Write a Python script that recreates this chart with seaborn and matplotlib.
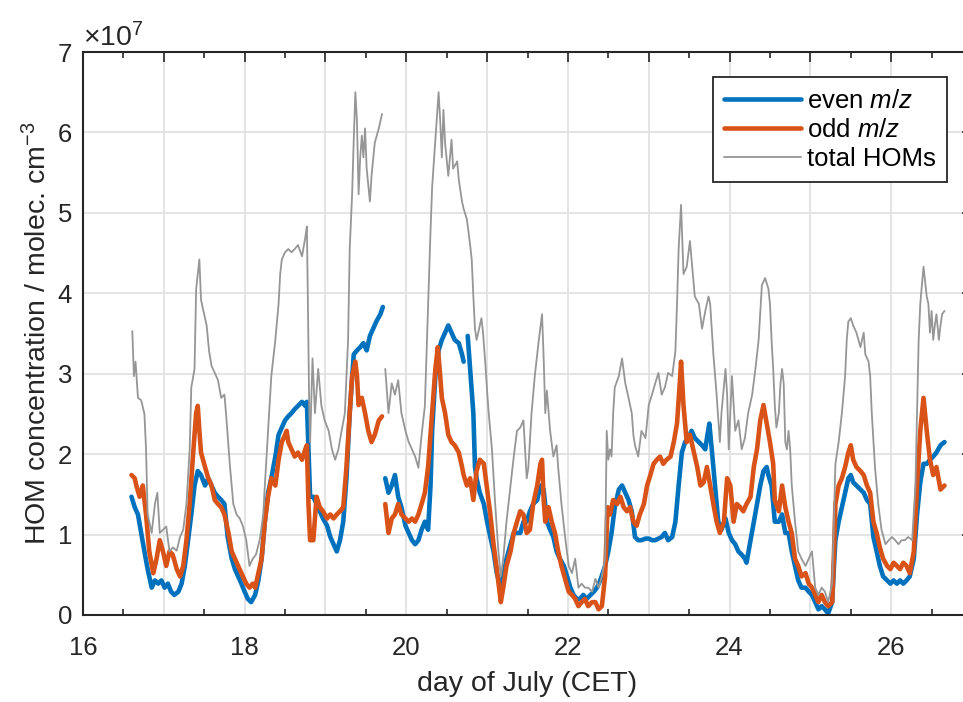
import numpy as np
import pandas as pd
import matplotlib
matplotlib.use("Agg")
import matplotlib.pyplot as plt
from matplotlib.lines import Line2D
from matplotlib.ticker import MultipleLocator
import seaborn as sns

# ---- data (concentrations in units of 1e7 molec. cm^-3); NaN marks a data gap ----
total_day = [16.61, 16.63, 16.65, 16.68, 16.72, 16.76, 16.78, 16.80, 16.85, 16.89, 16.92, 16.95, 16.99,
             17.03, 17.07, 17.11, 17.16, 17.20, 17.24, 17.28, 17.32, 17.34, 17.38, 17.40, 17.42, 17.44,
             17.46, 17.49, 17.53, 17.56, 17.59, 17.63, 17.67, 17.71, 17.75, 17.77, 17.82, 17.86, 17.90,
             17.94, 17.98, 18.02, 18.06, 18.10, 18.14, 18.19, 18.23, 18.25, 18.29, 18.33, 18.38, 18.42,
             18.44, 18.46, 18.50, 18.54, 18.58, 18.62, 18.66, 18.71, 18.75, 18.77, 18.78, 18.80, 18.81,
             18.84, 18.87, 18.91, 18.95, 18.99, 19.04, 19.08, 19.12, 19.16, 19.20, 19.24, 19.28, 19.30,
             19.33, 19.35, 19.37, 19.39, 19.41, 19.43, 19.45, 19.47, 19.49, 19.51, 19.55, 19.57, 19.61,
             19.66, 19.70, 19.72, 19.74, 19.78, 19.82, 19.86, 19.90, 19.94, 19.99, 20.03, 20.07, 20.11,
             20.15, 20.19, 20.23, 20.27, 20.30, 20.32, 20.36, 20.40, 20.42, 20.44, 20.46, 20.48, 20.52,
             20.54, 20.56, 20.58, 20.63, 20.65, 20.69, 20.71, 20.75, 20.79, 20.81, 20.83, 20.85, 20.87,
             20.89, 20.91, 20.93, 20.95, 20.98, 21.00, 21.02, 21.06, 21.10, 21.14, 21.17, 21.20, 21.24,
             21.29, 21.33, 21.37, 21.41, 21.45, 21.47, 21.49, 21.51, 21.55, 21.59, 21.64, 21.68, 21.70,
             21.72, 21.74, 21.78, 21.82, 21.86, 21.88, 21.92, 21.97, 22.01, 22.05, 22.09, 22.13, 22.17,
             22.21, 22.25, 22.30, 22.34, 22.38, 22.42, 22.46, 22.48, 22.50, 22.52, 22.54, 22.56, 22.58,
             22.63, 22.67, 22.71, 22.75, 22.79, 22.81, 22.83, 22.87, 22.91, 22.96, 23.00, 23.04, 23.08,
             23.12, 23.16, 23.20, 23.24, 23.29, 23.33, 23.35, 23.37, 23.40, 23.43, 23.47, 23.51, 23.53,
             23.57, 23.62, 23.66, 23.70, 23.74, 23.76, 23.80, 23.84, 23.88, 23.90, 23.95, 23.97, 23.99,
             24.03, 24.07, 24.11, 24.15, 24.19, 24.23, 24.28, 24.32, 24.36, 24.40, 24.44, 24.48, 24.50,
             24.52, 24.54, 24.56, 24.58, 24.61, 24.63, 24.65, 24.67, 24.69, 24.71, 24.73, 24.75, 24.77,
             24.81, 24.85, 24.89, 24.94, 24.98, 25.02, 25.06, 25.10, 25.14, 25.18, 25.22, 25.27, 25.29,
             25.31, 25.35, 25.39, 25.43, 25.45, 25.47, 25.50, 25.53, 25.57, 25.62, 25.66, 25.68, 25.72,
             25.74, 25.76, 25.80, 25.84, 25.88, 25.93, 25.97, 26.01, 26.05, 26.09, 26.13, 26.17, 26.21,
             26.26, 26.30, 26.32, 26.34, 26.36, 26.38, 26.40, 26.42, 26.44, 26.46, 26.48, 26.50, 26.52,
             26.54, 26.56, 26.59, 26.61, 26.63, 26.66]
total_val = [3.53, 2.97, 3.15, 2.70, 2.67, 2.50, 2.06, 1.25, 1.02, 1.38, 1.52, 1.02, 1.06,
             1.10, 0.79, 0.84, 0.80, 0.97, 1.06, 1.38, 2.06, 2.83, 3.06, 4.05, 4.24, 4.42,
             3.92, 3.78, 3.60, 3.28, 3.10, 3.01, 2.92, 2.70, 2.74, 2.50, 1.83, 1.38, 1.25,
             1.20, 1.10, 0.93, 0.61, 0.70, 0.75, 0.95, 1.25, 1.61, 2.29, 2.97, 3.42, 3.87,
             4.24, 4.42, 4.51, 4.55, 4.51, 4.55, 4.60, 4.46, 4.69, 4.83, 4.10, 2.51, 2.15,
             3.19, 2.51, 3.06, 2.60, 2.42, 2.29, 2.06, 1.93, 2.06, 2.29, 2.51, 3.42, 4.55,
             5.23, 5.91, 6.50, 6.14, 5.23, 5.69, 5.96, 5.69, 6.05, 5.55, 5.14, 5.46, 5.87,
             6.05, 6.23, np.nan, 3.06, 2.51, 2.88, 2.74, 2.92, 2.51, 2.29, 2.15, 2.06, 1.97,
             1.83, 2.24, 2.60, 3.87, 4.78, 5.32, 5.91, 6.50, 6.14, 5.69, 6.28, 5.87, 5.46,
             5.69, 5.91, 5.55, 5.64, 5.41, 5.14, 5.05, 4.92, 4.60, 4.42, 3.96, 3.56, 3.42,
             3.51, 3.60, 3.69, 3.51, 3.10, 2.79, 2.51, 2.06, 1.38, 0.79, 0.48, 0.70, 1.16,
             1.61, 1.97, 2.29, 2.33, 2.42, 2.06, 1.70, 1.83, 2.51, 2.97, 3.42, 3.74, 3.19,
             2.51, 2.79, 2.29, 1.97, 2.11, 1.83, 1.38, 0.93, 0.61, 0.52, 0.70, 0.34, 0.39,
             0.34, 0.34, 0.29, 0.45, 0.34, 0.48, 0.70, 2.29, 1.93, 2.06, 1.97, 2.51, 2.83,
             2.97, 3.19, 2.88, 2.70, 2.51, 2.24, 2.11, 1.97, 2.29, 2.20, 2.61, 2.74, 2.88,
             3.01, 2.74, 2.83, 3.01, 2.97, 3.28, 3.87, 4.55, 5.10, 4.24, 4.33, 4.65, 4.42,
             3.96, 3.87, 3.56, 3.78, 3.96, 3.87, 3.24, 2.74, 2.15, 2.51, 3.06, 2.74, 2.06,
             2.97, 2.29, 2.42, 2.06, 2.20, 2.51, 2.74, 3.06, 3.42, 4.10, 4.19, 4.06, 3.87,
             3.42, 3.06, 2.61, 2.33, 2.51, 2.88, 3.06, 2.88, 2.15, 2.06, 2.29, 2.06, 1.61,
             1.16, 0.79, 0.70, 0.61, 0.70, 0.79, 0.34, 0.25, 0.34, 0.29, 0.16, 0.39, 1.16,
             1.88, 2.15, 2.51, 2.97, 3.42, 3.65, 3.69, 3.60, 3.51, 3.33, 3.51, 3.24, 3.15,
             2.97, 2.51, 1.83, 1.38, 1.06, 0.88, 0.93, 0.97, 0.93, 0.88, 0.93, 0.93, 0.97,
             0.93, 1.61, 2.51, 3.42, 3.87, 4.10, 4.33, 4.15, 3.96, 3.87, 3.51, 3.78, 3.42,
             3.60, 3.74, 3.42, 3.60, 3.74, 3.78]

odd_day = [16.60, 16.64, 16.66, 16.70, 16.74, 16.78, 16.82, 16.87, 16.91, 16.95, 16.99, 17.03, 17.07,
           17.11, 17.16, 17.20, 17.24, 17.28, 17.32, 17.36, 17.40, 17.42, 17.44, 17.46, 17.51, 17.55,
           17.59, 17.63, 17.67, 17.71, 17.75, 17.80, 17.84, 17.88, 17.92, 17.96, 18.02, 18.06, 18.10,
           18.13, 18.17, 18.21, 18.25, 18.29, 18.33, 18.38, 18.42, 18.46, 18.50, 18.52, 18.54, 18.58,
           18.62, 18.66, 18.71, 18.75, 18.77, 18.79, 18.81, 18.85, 18.89, 18.93, 18.97, 19.02, 19.06,
           19.10, 19.14, 19.18, 19.22, 19.26, 19.30, 19.33, 19.37, 19.39, 19.41, 19.45, 19.49, 19.53,
           19.57, 19.61, 19.66, 19.70, 19.72, 19.74, 19.78, 19.82, 19.86, 19.90, 19.94, 19.99, 20.03,
           20.07, 20.11, 20.15, 20.19, 20.23, 20.27, 20.32, 20.36, 20.39, 20.42, 20.44, 20.48, 20.52,
           20.56, 20.60, 20.65, 20.69, 20.71, 20.75, 20.79, 20.83, 20.87, 20.91, 20.96, 21.00, 21.04,
           21.08, 21.12, 21.17, 21.20, 21.24, 21.29, 21.33, 21.37, 21.41, 21.45, 21.49, 21.53, 21.57,
           21.62, 21.66, 21.68, 21.70, 21.72, 21.76, 21.80, 21.84, 21.88, 21.92, 21.97, 22.01, 22.05,
           22.09, 22.13, 22.17, 22.21, 22.25, 22.30, 22.34, 22.38, 22.42, 22.46, 22.49, 22.52, 22.56,
           22.61, 22.65, 22.69, 22.73, 22.77, 22.81, 22.85, 22.89, 22.94, 22.98, 23.02, 23.06, 23.10,
           23.14, 23.18, 23.22, 23.27, 23.31, 23.35, 23.39, 23.40, 23.43, 23.47, 23.51, 23.55, 23.60,
           23.64, 23.68, 23.72, 23.76, 23.80, 23.84, 23.88, 23.93, 23.97, 24.01, 24.05, 24.09, 24.13,
           24.17, 24.21, 24.26, 24.30, 24.34, 24.38, 24.42, 24.46, 24.50, 24.54, 24.56, 24.61, 24.65,
           24.69, 24.73, 24.77, 24.81, 24.85, 24.89, 24.94, 24.98, 25.02, 25.06, 25.10, 25.14, 25.18,
           25.22, 25.27, 25.29, 25.31, 25.35, 25.39, 25.43, 25.47, 25.50, 25.53, 25.57, 25.62, 25.66,
           25.70, 25.74, 25.78, 25.82, 25.86, 25.90, 25.95, 25.99, 26.03, 26.07, 26.11, 26.15, 26.19,
           26.23, 26.28, 26.32, 26.36, 26.40, 26.44, 26.48, 26.52, 26.56, 26.61, 26.66]
odd_val = [1.74, 1.70, 1.61, 1.47, 1.61, 1.25, 0.79, 0.52, 0.70, 0.93, 0.79, 0.61, 0.79,
           0.75, 0.57, 0.48, 0.61, 0.93, 1.38, 1.97, 2.51, 2.60, 2.29, 2.02, 1.84, 1.70,
           1.61, 1.43, 1.38, 1.34, 1.25, 1.02, 0.79, 0.70, 0.61, 0.52, 0.39, 0.34, 0.39,
           0.34, 0.52, 0.70, 1.16, 1.47, 1.70, 1.61, 1.93, 2.15, 2.24, 2.29, 2.15, 2.06,
           1.97, 2.02, 1.93, 2.06, 2.11, 1.38, 0.93, 0.93, 1.47, 1.34, 1.29, 1.20, 1.25,
           1.20, 1.25, 1.29, 1.34, 1.84, 2.51, 2.97, 3.15, 2.97, 2.61, 2.70, 2.51, 2.29,
           2.15, 2.24, 2.42, 2.47, np.nan, 1.38, 1.02, 1.20, 1.25, 1.38, 1.25, 1.20, 1.16,
           1.20, 1.16, 1.25, 1.38, 1.52, 1.84, 2.51, 3.06, 3.33, 2.97, 2.70, 2.51, 2.24,
           2.15, 2.11, 2.02, 1.84, 1.74, 1.61, 1.70, 1.43, 1.79, 1.93, 1.88, 1.56, 1.25,
           0.88, 0.57, 0.16, 0.34, 0.61, 0.79, 1.02, 1.16, 1.29, 1.25, 1.02, 1.06, 1.38,
           1.61, 1.88, 1.93, 1.43, 1.16, 1.34, 1.16, 1.02, 0.79, 0.61, 0.43, 0.29, 0.25,
           0.20, 0.11, 0.16, 0.20, 0.11, 0.16, 0.16, 0.07, 0.11, 0.48, 1.34, 1.25, 1.43,
           1.38, 1.47, 1.34, 1.29, 1.34, 1.16, 1.11, 1.25, 1.38, 1.61, 1.74, 1.88, 1.93,
           1.97, 1.88, 1.93, 1.97, 2.15, 2.38, 2.97, 3.15, 2.61, 2.15, 2.24, 2.06, 1.84,
           1.61, 1.65, 1.84, 1.61, 1.38, 1.16, 1.02, 1.16, 1.70, 1.61, 1.16, 1.38, 1.34,
           1.29, 1.38, 1.47, 1.84, 2.06, 2.42, 2.61, 2.38, 2.15, 1.88, 1.43, 1.29, 1.61,
           1.34, 1.16, 1.02, 0.70, 0.61, 0.48, 0.52, 0.39, 0.34, 0.25, 0.16, 0.25, 0.16,
           0.11, 0.16, 0.70, 1.38, 1.61, 1.70, 1.84, 2.02, 2.11, 1.93, 1.84, 1.79, 1.74,
           1.61, 1.52, 1.16, 1.02, 0.84, 0.70, 0.61, 0.57, 0.65, 0.61, 0.57, 0.65, 0.61,
           0.52, 0.79, 1.61, 2.29, 2.70, 2.29, 1.93, 1.74, 1.84, 1.56, 1.61]

even_day = [16.60, 16.64, 16.68, 16.72, 16.76, 16.80, 16.85, 16.89, 16.93, 16.97, 17.01, 17.05, 17.09,
            17.13, 17.18, 17.22, 17.26, 17.30, 17.34, 17.38, 17.42, 17.46, 17.51, 17.55, 17.59, 17.63,
            17.67, 17.71, 17.75, 17.79, 17.84, 17.88, 17.92, 17.96, 18.00, 18.04, 18.08, 18.13, 18.17,
            18.21, 18.25, 18.29, 18.33, 18.38, 18.42, 18.46, 18.50, 18.54, 18.58, 18.62, 18.66, 18.71,
            18.75, 18.77, 18.79, 18.81, 18.85, 18.89, 18.93, 18.97, 19.02, 19.06, 19.10, 19.14, 19.18,
            19.22, 19.26, 19.30, 19.35, 19.39, 19.43, 19.47, 19.51, 19.55, 19.59, 19.63, 19.68, 19.71,
            19.72, 19.74, 19.78, 19.82, 19.86, 19.90, 19.94, 19.99, 20.03, 20.07, 20.11, 20.15, 20.19,
            20.23, 20.27, 20.30, 20.32, 20.36, 20.40, 20.44, 20.48, 20.52, 20.56, 20.60, 20.65, 20.69,
            20.71, 20.73, 20.76, 20.79, 20.83, 20.85, 20.87, 20.91, 20.96, 21.00, 21.04, 21.08, 21.12,
            21.17, 21.20, 21.24, 21.29, 21.33, 21.37, 21.41, 21.45, 21.49, 21.53, 21.57, 21.62, 21.66,
            21.70, 21.74, 21.78, 21.82, 21.86, 21.90, 21.95, 21.99, 22.03, 22.07, 22.11, 22.15, 22.19,
            22.23, 22.28, 22.32, 22.36, 22.40, 22.46, 22.50, 22.54, 22.58, 22.63, 22.67, 22.71, 22.75,
            22.79, 22.83, 22.87, 22.91, 22.96, 23.00, 23.04, 23.08, 23.12, 23.16, 23.20, 23.24, 23.29,
            23.33, 23.37, 23.41, 23.45, 23.49, 23.53, 23.57, 23.62, 23.66, 23.70, 23.72, 23.75, 23.78,
            23.82, 23.86, 23.90, 23.95, 23.99, 24.03, 24.07, 24.11, 24.15, 24.19, 24.21, 24.26, 24.30,
            24.34, 24.38, 24.42, 24.46, 24.48, 24.52, 24.56, 24.61, 24.65, 24.69, 24.73, 24.77, 24.81,
            24.85, 24.89, 24.94, 24.98, 25.02, 25.06, 25.10, 25.14, 25.18, 25.22, 25.27, 25.29, 25.31,
            25.35, 25.39, 25.43, 25.47, 25.50, 25.53, 25.57, 25.62, 25.66, 25.70, 25.74, 25.78, 25.82,
            25.86, 25.90, 25.95, 25.99, 26.03, 26.07, 26.11, 26.15, 26.19, 26.23, 26.28, 26.32, 26.36,
            26.40, 26.44, 26.48, 26.52, 26.56, 26.61, 26.66]
even_val = [1.47, 1.34, 1.25, 1.02, 0.79, 0.57, 0.34, 0.43, 0.39, 0.43, 0.34, 0.39, 0.29,
            0.25, 0.29, 0.39, 0.61, 0.93, 1.25, 1.61, 1.79, 1.74, 1.61, 1.70, 1.61, 1.52,
            1.47, 1.43, 1.38, 0.97, 0.70, 0.57, 0.48, 0.39, 0.29, 0.20, 0.16, 0.25, 0.43,
            0.70, 1.16, 1.52, 1.70, 1.97, 2.24, 2.33, 2.42, 2.47, 2.51, 2.56, 2.60, 2.65,
            2.60, 2.65, 2.06, 1.47, 1.47, 1.38, 1.29, 1.20, 1.11, 0.97, 0.88, 0.79, 0.93,
            1.16, 1.70, 2.51, 3.24, 3.29, 3.33, 3.38, 3.29, 3.47, 3.56, 3.65, 3.74, 3.83,
            np.nan, 1.70, 1.52, 1.61, 1.74, 1.47, 1.34, 1.11, 1.02, 0.93, 0.88, 0.93, 1.06,
            1.16, 1.06, 1.61, 2.29, 2.97, 3.29, 3.42, 3.51, 3.60, 3.51, 3.42, 3.38, 3.24,
            3.15, np.nan, 3.47, 3.06, 2.51, 1.84, 1.70, 1.52, 1.38, 1.16, 0.97, 0.79, 0.52,
            0.34, 0.48, 0.70, 0.88, 1.02, 1.02, 1.02, 1.16, 1.16, 1.29, 1.38, 1.43, 1.61,
            1.56, 1.16, 1.06, 0.97, 0.79, 0.70, 0.61, 0.48, 0.34, 0.25, 0.20, 0.20, 0.25,
            0.20, 0.25, 0.29, 0.34, 0.43, 0.61, 0.79, 1.02, 1.34, 1.56, 1.61, 1.52, 1.43,
            1.29, 0.97, 0.93, 0.93, 0.95, 0.95, 0.93, 0.93, 0.95, 0.97, 1.02, 0.93, 0.97,
            1.16, 1.61, 2.02, 2.15, 2.20, 2.29, 2.20, 2.15, 2.11, 2.06, 2.20, 2.38, 2.06,
            1.61, 1.16, 1.06, 1.20, 1.02, 0.93, 0.88, 0.79, 0.75, 0.70, 0.65, 0.93, 1.16,
            1.38, 1.61, 1.79, 1.84, 1.74, 1.61, 1.16, 1.16, 1.25, 1.02, 1.02, 0.79, 0.61,
            0.43, 0.34, 0.34, 0.29, 0.25, 0.16, 0.07, 0.11, 0.07, 0.02, 0.16, 0.57, 0.93,
            1.16, 1.34, 1.52, 1.70, 1.74, 1.65, 1.61, 1.56, 1.52, 1.43, 1.38, 0.97, 0.79,
            0.61, 0.48, 0.43, 0.39, 0.43, 0.39, 0.43, 0.39, 0.43, 0.48, 0.70, 1.25, 1.65,
            1.88, 1.88, 1.93, 1.97, 2.02, 2.11, 2.15]

series_labels = ["even $m/z$", "odd $m/z$", "total HOMs"]
x_ticks = list(range(16, 28))
x_ticklabels = [str(d) if d % 2 == 0 else "" for d in x_ticks]
y_ticks = list(range(0, 8))

BLUE, ORANGE, GREY = "#0072BD", "#D95319", "#969696"
INK = "#262626"


def to_frame(days, vals):
    df = pd.DataFrame({"day": days, "conc": vals})
    df["seg"] = df["conc"].isna().cumsum()
    return df.dropna()


sns.set_style("white")
plt.rcParams["font.family"] = ["Liberation Sans", "DejaVu Sans"]
plt.rcParams["mathtext.fontset"] = "custom"
plt.rcParams["mathtext.rm"] = "Liberation Sans"
plt.rcParams["mathtext.it"] = "Liberation Sans:italic"
plt.rcParams["mathtext.sf"] = "Liberation Sans"

fig = plt.figure(figsize=(9.63, 7.02), dpi=100)
ax = fig.add_axes([83 / 963, 87 / 702, 889 / 963, 563 / 702])

for days, vals, col, lw in [(even_day, even_val, BLUE, 3.3),
                            (odd_day, odd_val, ORANGE, 3.3),
                            (total_day, total_val, GREY, 1.3)]:
    sns.lineplot(data=to_frame(days, vals), x="day", y="conc", units="seg",
                 estimator=None, sort=False, color=col, linewidth=lw, ax=ax,
                 legend=False)

ax.set_xlim(16, 27)
ax.set_ylim(0, 7)
ax.set_xticks(x_ticks)
ax.set_xticklabels(x_ticklabels)
ax.xaxis.set_minor_locator(MultipleLocator(0.5))
ax.set_yticks(y_ticks)
ax.set_yticklabels([str(v) for v in y_ticks])
ax.tick_params(which="major", direction="in", top=True, right=True, length=7,
               width=1.2, colors=INK, labelsize=18.5)
ax.tick_params(axis="x", which="major", pad=15)
ax.tick_params(axis="y", which="major", pad=8)
ax.tick_params(which="minor", direction="in", top=True, bottom=True, length=4,
               width=1.2, colors=INK)
ax.grid(True, which="major", color="#E2E2E2", linewidth=1.3)
ax.set_axisbelow(True)
for sp in ax.spines.values():
    sp.set_color(INK)
    sp.set_linewidth(1.5)

ax.set_xlabel("day of July (CET)", fontsize=20.5, color=INK, labelpad=8)
ax.set_ylabel("HOM concentration / molec. cm$^{-3}$", fontsize=20.5, color=INK,
              labelpad=4)
ax.text(0.0, 1.0, r"$\times$10$^{7}$", transform=ax.transAxes, fontsize=20.5,
        color=INK, ha="left", va="bottom")

handles = [Line2D([], [], color=BLUE, lw=3.3),
           Line2D([], [], color=ORANGE, lw=3.3),
           Line2D([], [], color=GREY, lw=1.3)]
leg = ax.legend(handles, series_labels, loc="upper right",
                bbox_to_anchor=(947 / 963, (702 - 77) / 702),
                bbox_transform=fig.transFigure, borderaxespad=0,
                fontsize=18.5, frameon=True, fancybox=False, framealpha=1,
                edgecolor=INK, handlelength=3.0, handletextpad=0.2,
                labelspacing=0.2, borderpad=0.45)
leg.get_frame().set_linewidth(1.3)
for t in leg.get_texts():
    t.set_color("black")

fig.savefig("out.png", dpi=100)
